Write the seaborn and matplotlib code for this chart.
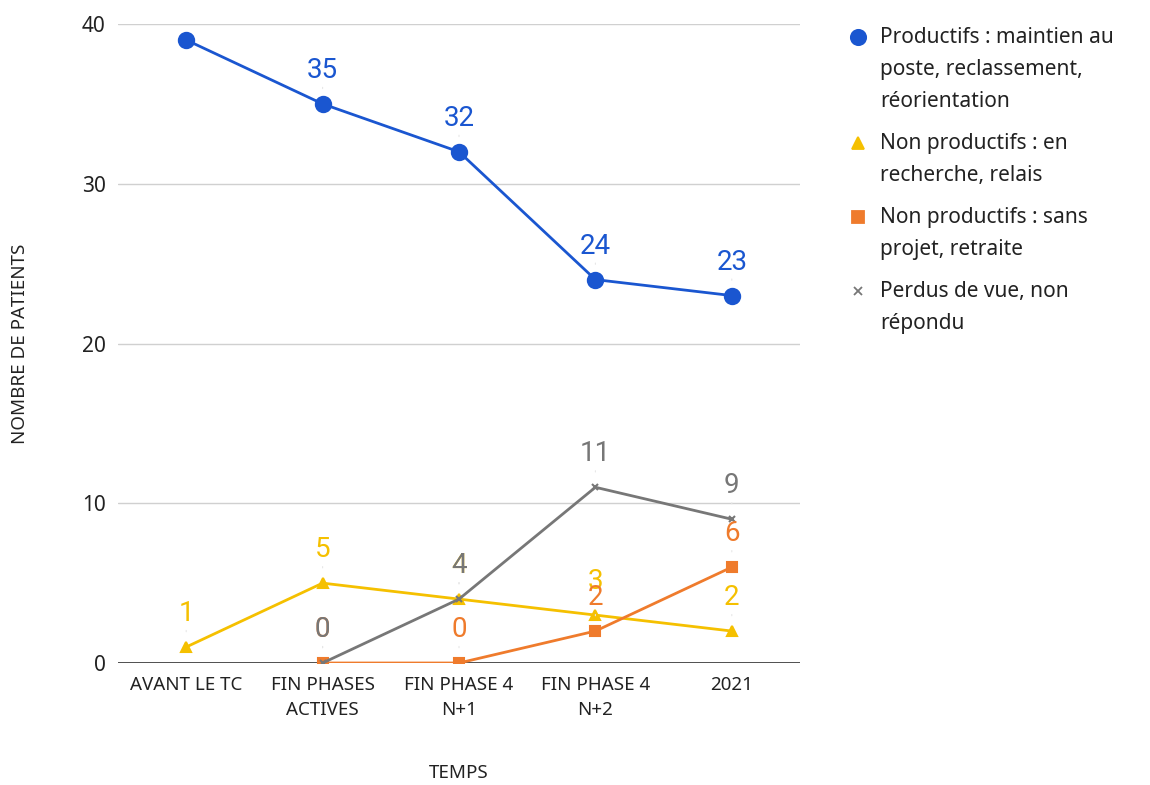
import numpy as np
import pandas as pd
import matplotlib
matplotlib.use("Agg")
import matplotlib.pyplot as plt
import seaborn as sns
from matplotlib.lines import Line2D

# Data
categories = ["AVANT LE TC", "FIN PHASES\nACTIVES", "FIN PHASE 4\nN+1", "FIN PHASE 4\nN+2", "2021"]
productifs = [39, 35, 32, 24, 23]
recherche = [1, 5, 4, 3, 2]
sans_projet = [np.nan, 0, 0, 2, 6]
perdus = [np.nan, 0, 4, 11, 9]

series_names = [
    "Productifs : maintien au\nposte, reclassement,\nréorientation",
    "Non productifs : en\nrecherche, relais",
    "Non productifs : sans\nprojet, retraite",
    "Perdus de vue, non\nrépondu",
]
series_values = [productifs, recherche, sans_projet, perdus]
colors = ["#1a56d0", "#f5c000", "#ef7b2c", "#777777"]
markers = ["o", "^", "s", "x"]
msizes = [11, 7, 7, 5]

sns.set_theme(style="white")
plt.rcParams["font.family"] = ["Noto Sans", "DejaVu Sans"]

W, H = 1150, 785
fig = plt.figure(figsize=(W / 100, H / 100), dpi=100)
ax = fig.add_axes([118 / W, 1 - 663 / H, 682 / W, 639 / H])

xpos = np.arange(len(categories))
for i, (name, vals) in enumerate(zip(series_names, series_values)):
    df = pd.DataFrame({"x": xpos, "y": vals}).dropna()
    sns.lineplot(data=df, x="x", y="y", ax=ax, color=colors[i], marker=markers[i],
                 markersize=msizes[i], markeredgecolor=colors[i], markeredgewidth=1.5,
                 linewidth=2, zorder=3 + i, legend=False)

ax.set_ylim(0, 40)
ax.set_xlim(-0.5, len(categories) - 0.5)

# data labels with thin leader lines
for i, vals in enumerate(series_values):
    for x, v in zip(xpos, vals):
        if np.isnan(v) or v + 2.5 > 40:
            continue
        ax.annotate(f"{v:g}", xy=(x, v), xytext=(0, 24), textcoords="offset points",
                    ha="center", va="center", fontsize=20, color=colors[i],
                    family=["Roboto", "DejaVu Sans"], zorder=10 + i,
                    arrowprops=dict(arrowstyle="-", color="#e6e6e6", lw=0.8,
                                    shrinkA=0, shrinkB=11))

ax.set_yticks([0, 10, 20, 30, 40])
ax.yaxis.grid(True, color="#d0d0d0", linewidth=1)
ax.xaxis.grid(False)
ax.axhline(0, color="#333333", linewidth=1.2, zorder=2)
for s in ax.spines.values():
    s.set_visible(False)
ax.set_xticks(xpos)
ax.set_xticklabels(categories, fontsize=13.5, color="#222222", linespacing=1.55)
ax.tick_params(axis="y", labelsize=15, colors="#222222", pad=9, length=0)
ax.tick_params(axis="x", length=0, pad=9)
ax.set_xlabel("TEMPS", fontsize=13.5, color="#222222")
ax.set_ylabel("NOMBRE DE PATIENTS", fontsize=13.5, color="#222222")
ax.xaxis.set_label_coords(0.5, -0.172)
ax.yaxis.set_label_coords(-0.144, 0.5)
ax.xaxis.label.set_va("center")
ax.yaxis.label.set_va("center")

# legend: marker beside the first line of each wrapped label
line_h = 32
entry_y = 37
for name, m, c, s in zip(series_names, markers, colors, [11, 9, 8, 6]):
    fig.add_artist(Line2D([858 / W], [1 - entry_y / H], transform=fig.transFigure,
                          linestyle="none", marker=m, color=c, markersize=s, markeredgewidth=1.3))
    fig.text(880 / W, 1 - (entry_y - 10) / H, name, fontsize=15, color="#222222",
             va="top", ha="left", linespacing=1.68)
    entry_y += line_h * name.count("\n") + 42

fig.savefig("out.png", dpi=100)
